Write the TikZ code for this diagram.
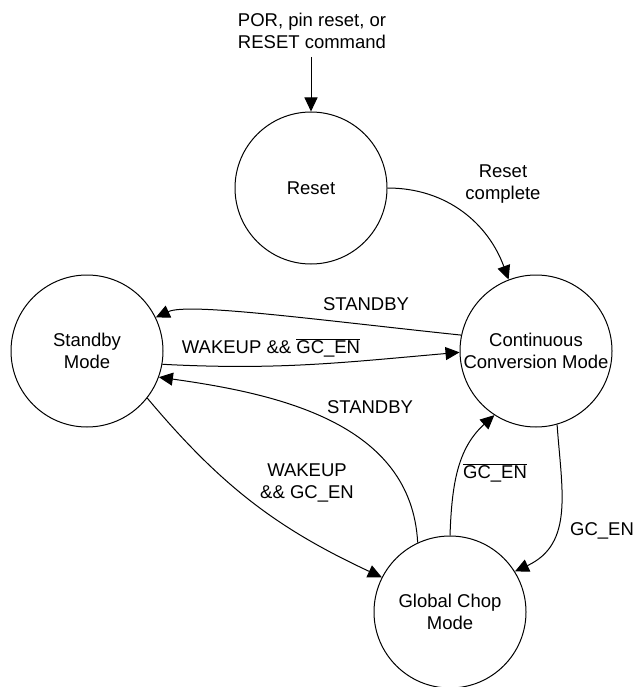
\documentclass[tikz,border=0pt]{standalone}
\usepackage{fontspec}
\setmainfont{Liberation Sans}
\usetikzlibrary{arrows.meta}
\begin{document}
\begin{tikzpicture}[x=1pt,y=-1pt,
  font=\fontsize{18.5}{22}\selectfont,
  state/.style={draw, circle, minimum size=152pt, inner sep=0pt, align=center, line width=1pt},
  lbl/.style={align=center, inner sep=0pt},
  edge/.style={line width=1pt, -{Triangle[length=14pt,width=13pt]}}]
\useasboundingbox (0,0) rectangle (634,687);

% states
\node[state] (reset) at (311,188) {Reset};
\node[state] (standby) at (87,351) {Standby\\Mode};
\node[state] (cont) at (536,351) {Continuous\\Conversion Mode};
\node[state] (gc) at (450,612) {Global Chop\\Mode};

% entry
\node[lbl] (por) at (312,31) {POR, pin reset, or\\RESET command};
\coordinate (entry) at (311,57);
\draw[edge] (entry) -- (reset.north);

% transitions
\draw[edge] (reset.east) to[out=0,in=110] (cont.111);
\draw[edge] (cont.168) to[out=174,in=25,out looseness=1.2,in looseness=0.3] (standby.26);
\draw[edge] (standby.-10) to[out=-3,in=185] (cont.181);
\draw[edge] (gc.115) to[out=93,in=-8] (standby.-20);
\draw[edge] (standby.-38) to[out=-50,in=155] (gc.153);
\draw[edge] (gc.90) to[out=88,in=222] (cont.237);
\draw[edge] (cont.-74) to[out=-86,in=25,looseness=1.1] (gc.32);

% labels
\node[lbl] (rc) at (503,184) {Reset\\complete};
\node[lbl] (sb1) at (366,304) {STANDBY};
\node[lbl] (wk1) at (271,348) {WAKEUP \&\& $\overline{\hbox{GC\_EN}}$};
\node[lbl] (sb2) at (370,407) {STANDBY};
\node[lbl] (wk2) at (307,483) {WAKEUP\\\&\& GC\_EN};
\node[lbl] (gcb) at (495,473) {$\overline{\hbox{GC\_EN}}$};
\node[lbl] (gce) at (602,531) {GC\_EN};
\end{tikzpicture}
\end{document}
